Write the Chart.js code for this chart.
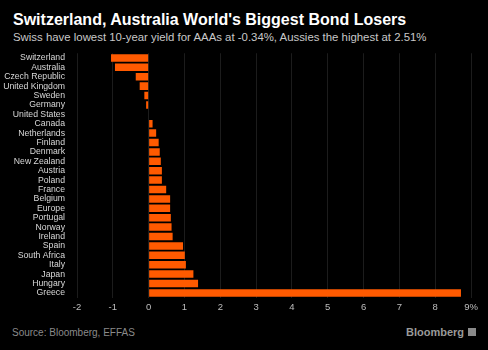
<!DOCTYPE html>
<html lang="en">
  <head>
    <meta charset="UTF-8" />
    <title>Bond losers</title>
    <script src="https://cdn.jsdelivr.net/npm/chart.js"></script>
    <style>
      body {
        margin: 0;
        background: #000;
        width: 488px;
        height: 350px;
        overflow: hidden;
        position: relative;
        font-family: "Liberation Sans", sans-serif;
      }
      #titulo {
        position: absolute;
        left: 13px;
        top: 11px;
        color: #fff;
        font-weight: bold;
        font-size: 16px;
        white-space: nowrap;
      }
      #subtitulo {
        position: absolute;
        left: 13px;
        top: 31px;
        color: #c8c8c8;
        font-size: 11.4px;
        white-space: nowrap;
      }
      #grafico {
        position: absolute;
        left: 0;
        top: 44px;
        width: 488px;
        height: 273px;
      }
      #fonte {
        position: absolute;
        left: 12px;
        top: 327px;
        color: #8a8a8a;
        font-size: 10px;
      }
      #logo {
        position: absolute;
        right: 12px;
        top: 326px;
        color: #9a9a9a;
        font-size: 11px;
        font-weight: bold;
      }
      #logo span {
        display: inline-block;
        width: 8px;
        height: 8px;
        background: #8a8a8a;
        margin-left: 4px;
      }
    </style>
  </head>
  <body>
    <div id="titulo">Switzerland, Australia World's Biggest Bond Losers</div>
    <div id="subtitulo">Swiss have lowest 10-year yield for AAAs at -0.34%, Aussies the highest at 2.51%</div>
    <div id="grafico"><canvas id="perdas"></canvas></div>
    <div id="fonte">Source: Bloomberg, EFFAS</div>
    <div id="logo">Bloomberg<span></span></div>

    <script>
      const paises = [
        "Switzerland", "Australia", "Czech Republic", "United Kingdom",
        "Sweden", "Germany", "United States", "Canada", "Netherlands",
        "Finland", "Denmark", "New Zealand", "Austria", "Poland", "France",
        "Belgium", "Europe", "Portugal", "Norway", "Ireland", "Spain",
        "South Africa", "Italy", "Japan", "Hungary", "Greece",
      ];
      const retornos = [
        -1.05, -0.94, -0.36, -0.25, -0.12, -0.07, 0, 0.11, 0.21, 0.28,
        0.31, 0.34, 0.37, 0.37, 0.49, 0.6, 0.6, 0.62, 0.64, 0.67, 0.96,
        1.01, 1.04, 1.25, 1.38, 8.72,
      ];
      const eixoMin = -2;
      const eixoMax = 9;

      new Chart(perdas, {
        type: "bar",
        data: {
          labels: paises,
          datasets: [
            {
              label: "Return",
              data: retornos,
              backgroundColor: "#ff5a00",
              barPercentage: 0.8,
              categoryPercentage: 1,
            },
          ],
        },
        options: {
          indexAxis: "y",
          responsive: true,
          maintainAspectRatio: false,
          animation: false,
          layout: { padding: { top: 8, right: 17, left: 0, bottom: 0 } },
          plugins: { legend: { display: false }, tooltip: { enabled: false } },
          scales: {
            x: {
              min: eixoMin,
              max: eixoMax,
              ticks: {
                stepSize: 1,
                color: "#bdbdbd",
                font: { family: "Liberation Sans", size: 9.5 },
                padding: 4,
                maxRotation: 0,
                callback: (v) => (v == eixoMax ? v + "%" : v),
              },
              grid: { color: "#1c1c1c", drawTicks: false },
              border: { display: false },
            },
            y: {
              ticks: {
                color: "#d8d8d8",
                font: { family: "Liberation Sans", size: 8.7 },
                padding: 4,
                autoSkip: false,
              },
              grid: { display: false },
              border: { display: false },
              afterFit: (escala) => {
                escala.width = 77;
              },
            },
          },
        },
      });
    </script>
  </body>
</html>
